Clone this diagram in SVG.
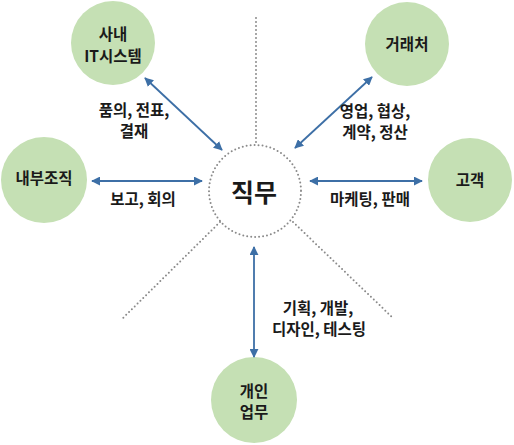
<svg xmlns="http://www.w3.org/2000/svg" width="514" height="445" viewBox="0 0 514 445">
<style>
.node{fill:#c5e0b4;}
.nt{font-family:"Noto Sans CJK KR","Noto Sans",sans-serif;font-size:15.5px;font-weight:700;fill:#1a1a1a;text-anchor:middle;}
.lb{font-family:"Noto Sans CJK KR","Noto Sans",sans-serif;font-size:15.5px;font-weight:700;fill:#1a1a1a;text-anchor:middle;}
.dot{fill:none;stroke:#8a8a8a;stroke-width:2;stroke-dasharray:0 4;stroke-linecap:round;}
.arr{stroke:#3d6fa6;stroke-width:1.8;fill:none;marker-start:url(#ah);marker-end:url(#ah);}
</style>
<defs>
<marker id="ah" viewBox="0 0 10 10" refX="9" refY="5" markerWidth="5" markerHeight="5" orient="auto-start-reverse" markerUnits="strokeWidth">
<path d="M0,0 L10,5 L0,10 Z" fill="#3d6fa6"/>
</marker>
</defs>
<rect width="514" height="445" fill="#ffffff"/>
<g id="dividers">
<line class="dot" x1="256" y1="18" x2="256" y2="144"/>
<line class="dot" x1="220" y1="222" x2="121" y2="320"/>
<line class="dot" x1="293" y1="222" x2="393" y2="318"/>
</g>
<g id="center">
<circle cx="255" cy="191" r="46" class="dot"/>
<text x="254" y="202" class="nt" style="font-size:25px">직무</text>
</g>
<g id="it">
<circle cx="113" cy="43" r="42" class="node"/>
<text x="113" y="40" class="nt">사내</text>
<text x="113" y="62" class="nt">IT시스템</text>
</g>
<g id="partner">
<circle cx="407" cy="44" r="42" class="node"/>
<text x="407" y="50" class="nt">거래처</text>
</g>
<g id="internal">
<circle cx="44" cy="180" r="43" class="node"/>
<text x="44" y="184" class="nt">내부조직</text>
</g>
<g id="customer">
<circle cx="470" cy="180" r="42" class="node"/>
<text x="470" y="186" class="nt">고객</text>
</g>
<g id="personal">
<circle cx="254" cy="400" r="43" class="node"/>
<text x="254" y="397" class="nt">개인</text>
<text x="254" y="418" class="nt">업무</text>
</g>
<g id="connectors">
<line class="arr" x1="145" y1="78" x2="222" y2="150"/>
<line class="arr" x1="372" y1="77" x2="295" y2="148"/>
<line class="arr" x1="92" y1="181" x2="202" y2="181"/>
<line class="arr" x1="310" y1="181" x2="422" y2="181"/>
<line class="arr" x1="254" y1="247" x2="254" y2="357"/>
</g>
<g id="labels">
<text x="134" y="116" class="lb">품의, 전표,</text>
<text x="134" y="137" class="lb">결재</text>
<text x="375" y="117" class="lb">영업, 협상,</text>
<text x="375" y="138" class="lb">계약, 정산</text>
<text x="143" y="205" class="lb">보고, 회의</text>
<text x="370" y="205" class="lb">마케팅, 판매</text>
<text x="318" y="314" class="lb">기획, 개발,</text>
<text x="319" y="335" class="lb">디자인, 테스팅</text>
</g>
</svg>
